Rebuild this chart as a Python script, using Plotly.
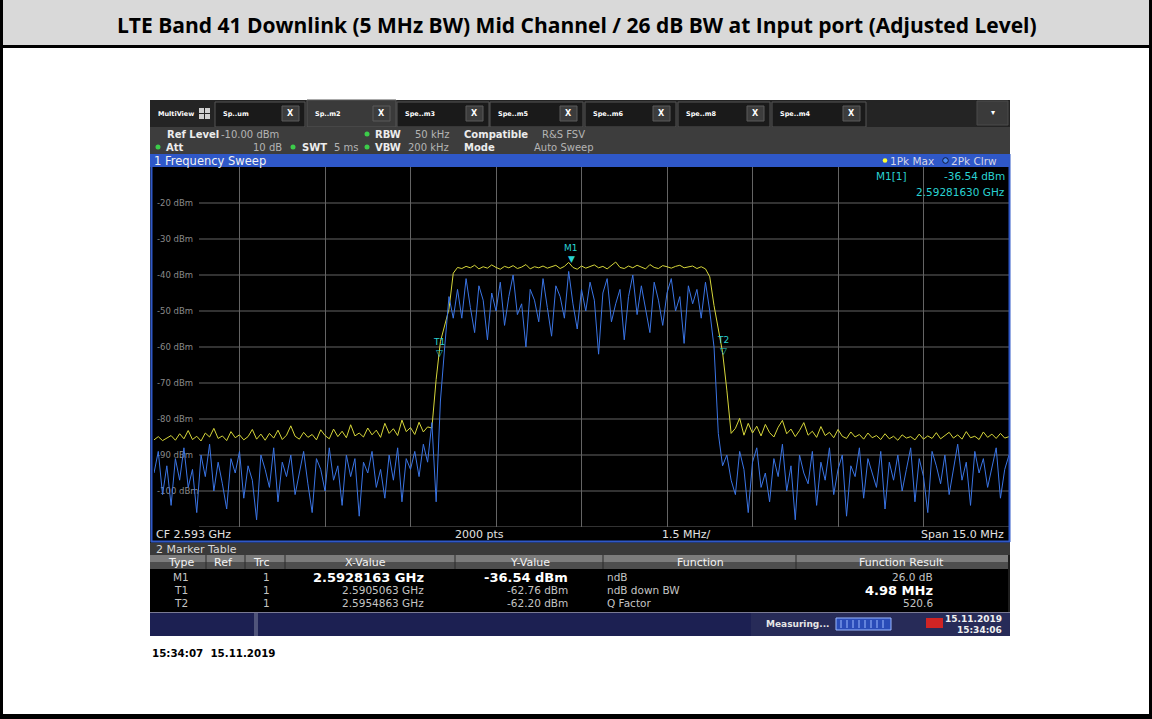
import numpy as np
import plotly.graph_objects as go

# ---------------- data ----------------
TITLE = "LTE Band 41 Downlink (5 MHz BW) Mid Channel / 26 dB BW at Input port (Adjusted Level)"
CF_GHZ = 2.593
SPAN_GHZ = 0.015
DIV_GHZ = 0.0015
N_PTS = 201
REF_LEVEL = -10
Y_BOTTOM = -110
y_ticks = [-20, -30, -40, -50, -60, -70, -80, -90, -100]
y_ticktext = ["-20 dBm", "-30 dBm", "-40 dBm", "-50 dBm", "-60 dBm",
              "-70 dBm", "-80 dBm", "-90 dBm", "-100 dBm"]

# trace 1: 1Pk Max (yellow), dBm
pk_max = [
    -85.8, -84.9, -86.0, -85.2, -84.6, -85.9, -84.1, -85.5, -83.2, -85.7,
    -84.8, -86.1, -83.9, -85.0, -82.6, -85.4, -84.7, -86.0, -83.5, -85.2,
    -84.4, -85.8, -84.9, -82.9, -85.6, -84.2, -85.9, -84.0, -85.3, -83.1,
    -85.7, -84.5, -81.9, -84.8, -85.6, -83.7, -85.1, -84.3, -85.8, -83.0,
    -84.6, -85.5, -82.8, -84.9, -83.4, -85.2, -81.6, -84.7, -83.9, -85.0,
    -82.5, -84.4, -83.1, -85.1, -81.2, -84.0, -82.7, -84.6, -80.3, -83.5,
    -82.4, -84.3, -80.9, -83.6, -82.2,
    -82.5, -69.0, -58.5, -54.0, -49.5, -39.5,
    -37.9, -38.2, -37.6, -38.0, -37.3, -38.3, -37.7, -38.1, -37.2, -37.9,
    -38.4, -37.6, -38.0, -37.4, -38.2, -37.8, -37.1, -38.3, -37.7, -38.0,
    -37.5, -38.1, -37.8, -37.3, -38.2, -37.6, -36.5, -37.9, -38.4, -37.5,
    -38.1, -37.7, -37.2, -38.0, -37.6, -38.3, -37.4, -36.4, -37.9, -38.2,
    -37.5, -38.0, -37.3, -37.8, -38.3, -37.1, -37.9, -38.2, -37.4, -37.7,
    -38.1, -37.6, -37.3, -38.0, -37.8, -37.5, -38.2, -37.7, -38.3,
    -40.5, -48.5, -55.5, -61.5, -72.0, -84.0,
    -82.6, -79.8, -84.5, -81.2, -83.9, -82.0, -84.7, -81.5, -83.8, -85.0,
    -82.3, -80.4, -84.1, -82.8, -84.9, -83.2, -81.0, -84.5, -83.4, -85.1,
    -82.1, -84.6, -83.7, -85.2, -82.9, -84.8, -85.4, -83.6, -85.0, -84.3,
    -85.6, -83.9, -85.2, -84.6, -85.7, -84.1, -85.5, -84.8, -85.9, -84.4,
    -85.3, -84.9, -85.8, -84.2, -85.6, -84.7, -85.4, -83.8, -85.5, -84.6,
    -83.7, -85.3, -84.4, -85.6, -83.5, -85.2, -84.8, -85.7, -83.6, -85.1,
    -84.2, -85.4, -84.0, -85.3, -84.9,
]

# trace 2: 2Pk Clrw (blue), dBm
clrw = [
    -95, -89, -101, -93, -104, -91, -97, -88, -99, -94,
    -106, -90, -96, -87, -100, -92, -98, -105, -91, -95,
    -89, -102, -93, -97, -108, -90, -94, -99, -88, -103,
    -92, -96, -90, -101, -95, -89, -98, -106, -91, -94,
    -100, -88, -97, -93, -104, -90, -96, -91, -107, -92,
    -95, -89, -99, -94, -102, -90, -97, -88, -103, -91,
    -94, -89, -96, -87, -92, -81, -103,
    -75, -60, -46, -52,
    -44, -52, -41, -49, -56, -43, -47, -58, -45, -50,
    -42, -54, -46, -40, -51, -48, -60, -44, -47, -53,
    -41, -49, -57, -43, -46, -52, -39, -48, -55, -44,
    -50, -42, -47, -62, -45, -41, -53, -48, -44, -58,
    -46, -40, -51, -43, -49, -56, -42, -47, -54, -45,
    -41, -50, -46, -59, -43, -48, -44, -52, -42,
    -50, -60, -84, -93,
    -90, -97, -101, -89, -94, -106, -92, -88, -99, -95,
    -103, -91, -96, -87, -100, -93, -108, -90, -95, -98,
    -89, -104, -92, -97, -88, -101, -94, -90, -107, -93,
    -96, -88, -102, -91, -95, -99, -89, -105, -92, -97,
    -90, -100, -94, -88, -103, -91, -96, -106, -89, -93,
    -98, -90, -101, -94, -87, -97, -92, -104, -89, -95,
    -91, -99, -93, -88, -102, -94, -90,
]

marker_names = ["M1", "T1", "T2"]
marker_freq = [2.5928163, 2.5905063, 2.5954863]
marker_level = [-36.54, -62.76, -62.20]
marker_trc = ["1", "1", "1"]
marker_xtext = ["2.5928163 GHz", "2.5905063 GHz", "2.5954863 GHz"]
marker_ytext = ["-36.54 dBm", "-62.76 dBm", "-62.20 dBm"]
func_names = ["ndB", "ndB down BW", "Q Factor"]
func_results = ["26.0 dB", "4.98 MHz", "520.6"]

tab_labels = ["Sp..um", "Sp..m2", "Spe..m3", "Spe..m5", "Spe..m6", "Spe..m8", "Spe..m4"]

f_start = CF_GHZ - SPAN_GHZ / 2
f_stop = CF_GHZ + SPAN_GHZ / 2
freq = np.linspace(f_start, f_stop, N_PTS)

# ---------------- layout helpers ----------------
W, H = 1152, 719
UI = "DejaVu Sans"
shapes, ann = [], []


def X(px):
    return px / W


def Y(py):
    return 1 - py / H


def rect(x0, y0, x1, y1, fill, line=None, lw=1, layer="below"):
    shapes.append(dict(type="rect", xref="paper", yref="paper",
                       x0=X(x0), x1=X(x1), y0=Y(y1), y1=Y(y0),
                       fillcolor=fill, layer=layer,
                       line=dict(color=line or fill, width=lw if line else 0)))


def hline(x0, x1, py, color, w=1, layer="below"):
    shapes.append(dict(type="line", xref="paper", yref="paper",
                       x0=X(x0), x1=X(x1), y0=Y(py), y1=Y(py),
                       line=dict(color=color, width=w), layer=layer))


def vline(px, y0, y1, color, w=1, layer="below"):
    shapes.append(dict(type="line", xref="paper", yref="paper",
                       x0=X(px), x1=X(px), y0=Y(y0), y1=Y(y1),
                       line=dict(color=color, width=w), layer=layer))


def dot(cx, cy, r, fill, line=None):
    shapes.append(dict(type="circle", xref="paper", yref="paper",
                       x0=X(cx - r), x1=X(cx + r), y0=Y(cy + r), y1=Y(cy - r),
                       fillcolor=fill, layer="above",
                       line=dict(color=line or fill, width=1 if line else 0)))


def txt(s, px, py, size=10, color="#d0d0d0", xa="left", bold=False, fam=UI):
    ann.append(dict(text=f"<b>{s}</b>" if bold else s, x=X(px), y=Y(py),
                    xref="paper", yref="paper", xanchor=xa, yanchor="middle",
                    showarrow=False, borderpad=0,
                    font=dict(size=size, color=color, family=fam)))


# ---------------- page frame ----------------
rect(0, 0, 1152, 46, "#d9d9d9")
rect(0, 0, 3, 719, "#000000")
rect(1149, 0, 1152, 719, "#000000")
rect(0, 45, 1152, 48, "#000000")
rect(0, 714, 1152, 719, "#000000")
txt(TITLE, 577, 25, 21, "#000000", "center", True, "Open Sans")

# ---------------- instrument screen ----------------
rect(150, 100, 1010, 636, "#1e1e1e")
rect(150, 100, 1010, 127, "#242424")
# MultiView
txt("MultiView", 157, 114, 6.5, "#ffffff", "left", True)
for (a, b) in [(199, 108), (205, 108), (199, 114), (205, 114)]:
    rect(a, b, a + 5, b + 5, "#d0d0d0")
tab_x0 = [215, 307, 397, 490, 585, 678, 772]
tab_x1 = [305, 396, 489, 583, 676, 770, 866]
for i, lab in enumerate(tab_labels):
    active = (i == 1)
    rect(tab_x0[i], 102 if not active else 100, tab_x1[i], 127,
         "#3a3a3a" if active else "#1a1a1a", line="#555555", lw=1)
    txt(lab, tab_x0[i] + 7, 114, 6.5, "#ffffff", "left", True)
    rect(tab_x1[i] - 23, 106, tab_x1[i] - 6, 121, "#3c3c3c", line="#5a5a5a", lw=1)
    txt("X", tab_x1[i] - 14.5, 113.5, 8, "#ffffff", "center", True)
rect(977, 101, 1008, 125, "#3a3a3a", line="#4a4a4a", lw=1)
txt("▾", 992.5, 112, 8, "#ffffff", "center")

# info bar
rect(150, 127, 1010, 154, "#3d3d3d")
LBL, VAL = "#ececec", "#b4b4b4"
txt("Ref Level", 166, 134, 10, LBL, bold=True)
txt("-10.00 dBm", 220, 134, 10, VAL)
txt("RBW", 374, 134, 10, LBL, bold=True)
txt("50 kHz", 450, 134, 10, VAL, "right")
txt("Compatible", 463, 134, 10, LBL, bold=True)
txt("R&amp;S FSV", 541, 134, 10, VAL)
txt("Att", 165, 147, 10, LBL, bold=True)
txt("10 dB", 283, 147, 10, VAL, "right")
txt("SWT", 301, 147, 10, LBL, bold=True)
txt("5 ms", 333, 147, 10, VAL)
txt("VBW", 374, 147, 10, LBL, bold=True)
txt("200 kHz", 450, 147, 10, VAL, "right")
txt("Mode", 463, 147, 10, LBL, bold=True)
txt("Auto Sweep", 533, 147, 10, VAL)
for (cx, cy) in [(367, 134), (158, 147), (293, 147), (367, 147)]:
    dot(cx, cy, 2.5, "#3ccc4a")

# blue title bar
rect(150, 154, 1010, 167, "#2f58c8")
txt("1 Frequency Sweep", 153, 160.5, 11.5, "#f2f2f2")
dot(885, 160.5, 2.3, "#ffff30")
txt("1Pk Max", 889, 160.5, 10.5, "#d6d6e6")
dot(945.5, 160.5, 2.8, "#4a8af0", line="#101838")
txt("2Pk Clrw", 950, 160.5, 10.5, "#d6d6e6")

# plot area black + CF bar
rect(152, 167, 1009, 541, "#000000")
for v in y_ticks + [Y_BOTTOM]:
    shapes.append(dict(type="line", xref="paper", yref="y",
                       x0=X(199), x1=X(1009), y0=v, y1=v,
                       line=dict(color="#646464", width=1), layer="below"))
txt("CF 2.593 GHz", 155, 534.5, 11, "#e2e2e2")
txt("2000 pts", 454, 534.5, 11, "#e2e2e2")
txt("1.5 MHz/", 661, 534.5, 11, "#e2e2e2")
txt("Span 15.0 MHz", 1005, 534.5, 11, "#e2e2e2", "right")
# blue frame
vline(151.5, 154, 542, "#2f58c8", 2, "above")
vline(1009.5, 154, 542, "#2f58c8", 2, "above")
hline(151, 1010, 541.5, "#2f58c8", 2, "above")

# marker readout
CY = "#2ad2d2"
txt("M1[1]", 875, 176, 10.5, CY)
txt("-36.54 dBm", 1006, 176, 10.5, CY, "right")
txt("2.59281630 GHz", 1006, 192, 10.5, CY, "right")

# marker table
rect(150, 543, 1010, 555, "#3a3a3a")
txt("2 Marker Table", 155, 549, 11, "#d8d8d8")
rect(150, 555, 1008, 562, "#7c7c7c")
rect(150, 562, 1008, 569, "#4e4e4e")
for sx in [206, 245, 285, 455, 603, 796]:
    vline(sx, 555, 569, "#2a2a2a", 1)
hdr = [("Type", 181), ("Ref", 223), ("Trc", 261), ("X-Value", 365),
       ("Y-Value", 530), ("Function", 700), ("Function Result", 901)]
for h, cx in hdr:
    txt(h, cx, 562.5, 11, "#f2f2f2", "center")
rect(150, 569, 1008, 612, "#000000")
row_y = [577, 590, 603]
ROW = "#c4c4c4"
for i in range(3):
    yy = row_y[i]
    txt(marker_names[i], 181, yy, 10.5, ROW, "center")
    txt(marker_trc[i], 266, yy, 10.5, ROW, "center")
    big = (i == 0)
    txt(marker_xtext[i], 425, yy, 13 if big else 10.5, "#ffffff" if big else ROW, "right", big)
    txt(marker_ytext[i], 569, yy, 13 if big else 10.5, "#ffffff" if big else ROW, "right", big)
    txt(func_names[i], 606, yy, 10.5, ROW)
    bigr = (i == 1)
    txt(func_results[i], 934, yy, 13 if bigr else 10.5, "#ffffff" if bigr else ROW, "right", bigr)

# status bar
rect(150, 612, 1010, 636, "#1c2052")
hline(150, 1010, 612.5, "#7a7a94", 1)
rect(254, 613, 258, 636, "#50547a")
rect(751, 613, 1010, 636, "#272b58")
txt("Measuring...", 765, 624, 9, "#e6e6e6", "left", True)
rect(836, 618, 891, 630, "#2a4cb8", line="#9ab8ff", lw=1)
for k in range(8):
    vline(841 + k * 6, 620, 628, "#9ab8ff", 1, "above")
rect(926, 618, 943, 628, "#d02424")
txt("15.11.2019", 1003, 619, 9, "#f0f0f0", "right", True)
txt("15:34:06", 1003, 629.5, 9, "#f0f0f0", "right", True)

# timestamp under screen
txt("15:34:07\u00a0\u00a015.11.2019", 151, 653, 10.3, "#000000", "left", True)

# ---------------- traces ----------------
fig = go.Figure()
fig.add_trace(go.Scatter(x=freq, y=pk_max, mode="lines",
                         line=dict(color="#d6d63a", width=1), hoverinfo="skip",
                         showlegend=False))
fig.add_trace(go.Scatter(x=freq, y=clrw, mode="lines",
                         line=dict(color="#3a74e4", width=1), hoverinfo="skip",
                         showlegend=False))

for i, nm in enumerate(marker_names):
    sym = "▼" if i == 0 else "▽"
    ann.append(dict(text=sym, x=marker_freq[i], y=marker_level[i], xref="x", yref="y",
                    xanchor="center", yanchor="bottom", yshift=-2, showarrow=False,
                    borderpad=0, font=dict(size=9, color=CY, family=UI)))
    ann.append(dict(text=nm, x=marker_freq[i], y=marker_level[i], xref="x", yref="y",
                    xanchor="center", yanchor="bottom", yshift=9, showarrow=False,
                    borderpad=0, font=dict(size=9, color=CY, family=UI)))

fig.update_layout(
    width=W, height=H, margin=dict(l=0, r=0, t=0, b=0),
    paper_bgcolor="#ffffff", plot_bgcolor="rgba(0,0,0,0)",
    shapes=shapes, annotations=ann, showlegend=False,
    xaxis=dict(domain=[X(154), X(1009)], range=[f_start, f_stop],
               tick0=f_start, dtick=DIV_GHZ, showgrid=True, gridcolor="#646464",
               gridwidth=1, showticklabels=False, zeroline=False, showline=False,
               ticks=""),
    yaxis=dict(domain=[Y(527), Y(167)], range=[Y_BOTTOM, REF_LEVEL],
               tickvals=y_ticks, ticktext=y_ticktext, showgrid=False,
               ticklabelposition="inside", ticks="", layer="below traces",
               tickfont=dict(size=8.5, color="#8a8a8a", family=UI),
               zeroline=False, showline=False),
)

fig.write_html("out.html", config={"displayModeBar": False},
               post_script="document.body.style.margin='0';document.body.style.overflow='hidden';")
